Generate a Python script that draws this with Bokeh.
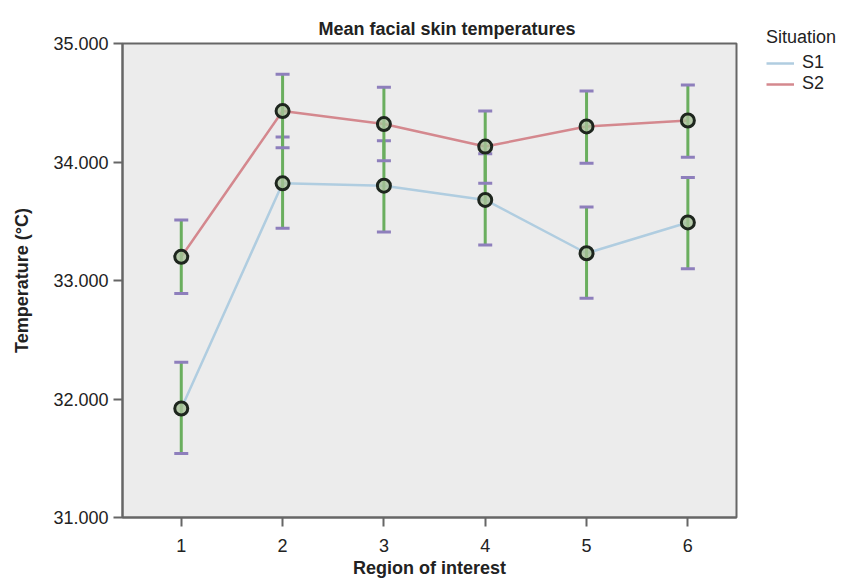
from bokeh.plotting import figure
from bokeh.models import Range1d, NumeralTickFormatter, FixedTicker, Legend, LegendItem, ColumnDataSource
from bokeh.embed import file_html
from bokeh.resources import INLINE

regions = [1, 2, 3, 4, 5, 6]
s1_mean = [31.92, 33.82, 33.80, 33.68, 33.23, 33.49]
s1_lower = [31.54, 33.44, 33.41, 33.30, 32.85, 33.10]
s1_upper = [32.31, 34.21, 34.18, 34.07, 33.62, 33.87]
s2_mean = [33.20, 34.43, 34.32, 34.13, 34.30, 34.35]
s2_lower = [32.89, 34.12, 34.01, 33.82, 33.99, 34.04]
s2_upper = [33.51, 34.74, 34.63, 34.43, 34.60, 34.65]
y_ticks = [31, 32, 33, 34, 35]
series_names = ["S1", "S2"]

FONT = "Liberation Sans"
FS = "18px"

p = figure(frame_width=614, frame_height=474,
           x_range=Range1d(0.42, 6.48), y_range=Range1d(31, 35),
           output_backend="svg", toolbar_location=None,
           min_border_left=122, min_border_right=113,
           min_border_top=43, min_border_bottom=63)

p.background_fill_color = "#ececec"
p.border_fill_color = "white"
p.outline_line_color = "#666666"
p.outline_line_width = 2
p.xgrid.visible = False
p.ygrid.visible = False

p.title.text = "Mean facial skin temperatures"
p.title.align = "left"
p.title.offset = 196
p.title.text_font = FONT
p.title.text_font_size = FS
p.title.text_font_style = "bold"
p.title.text_color = "#222222"

for ax in (p.xaxis[0], p.yaxis[0]):
    ax.axis_line_color = "#666666"
    ax.axis_line_width = 2
    ax.major_tick_line_color = "#666666"
    ax.major_tick_line_width = 2
    ax.major_tick_out = 9
    ax.major_tick_in = 0
    ax.minor_tick_line_color = None
    ax.major_label_text_font = FONT
    ax.major_label_text_font_size = FS
    ax.major_label_text_color = "#222222"
    ax.axis_label_text_font = FONT
    ax.axis_label_text_font_size = FS
    ax.axis_label_text_font_style = "bold"
    ax.axis_label_text_color = "#222222"

p.xaxis.ticker = FixedTicker(ticks=regions)
p.yaxis.ticker = FixedTicker(ticks=y_ticks)
p.yaxis.formatter = NumeralTickFormatter(format="0.000")
p.xaxis.axis_label = "Region of interest"
p.yaxis.axis_label = "Temperature (°C)"
p.xaxis.major_label_standoff = 12
p.xaxis.axis_label_standoff = 3
p.yaxis.major_label_standoff = 5
p.yaxis.axis_label_standoff = 18

src1 = ColumnDataSource(dict(x=regions, y=s1_mean, lo=s1_lower, hi=s1_upper))
src2 = ColumnDataSource(dict(x=regions, y=s2_mean, lo=s2_lower, hi=s2_upper))

l1 = p.line("x", "y", source=src1, line_color="#b0cde0", line_width=2.5)
l2 = p.line("x", "y", source=src2, line_color="#d4888e", line_width=2.5)

for src in (src1, src2):
    p.segment(x0="x", y0="lo", x1="x", y1="hi", source=src, line_color="#6aae5e", line_width=3)
    p.scatter(x="x", y="lo", source=src, marker="dash", size=14, line_color="#8e7fbc", line_width=3)
    p.scatter(x="x", y="hi", source=src, marker="dash", size=14, line_color="#8e7fbc", line_width=3)

for src in (src1, src2):
    p.scatter(x="x", y="y", source=src, marker="circle", size=13,
              line_color="#1e261e", line_width=3, fill_color="#a9c29a", fill_alpha=0.8)

legend = Legend(items=[LegendItem(label=series_names[0], renderers=[l1]),
                       LegendItem(label=series_names[1], renderers=[l2])])
legend.title = "Situation"
legend.title_text_font = FONT
legend.title_text_font_size = FS
legend.title_text_font_style = "normal"
legend.title_text_color = "#222222"
legend.title_standoff = 4
legend.label_text_font = FONT
legend.label_text_font_size = FS
legend.label_text_color = "#222222"
legend.glyph_width = 28
legend.glyph_height = 20
legend.label_height = 20
legend.spacing = 0
legend.label_standoff = 8
legend.padding = 3
legend.margin = 0
legend.border_line_color = None
legend.background_fill_alpha = 0
legend.location = (30, 423)
p.add_layout(legend, "right")

open("out.html", "w").write(file_html(p, INLINE))
